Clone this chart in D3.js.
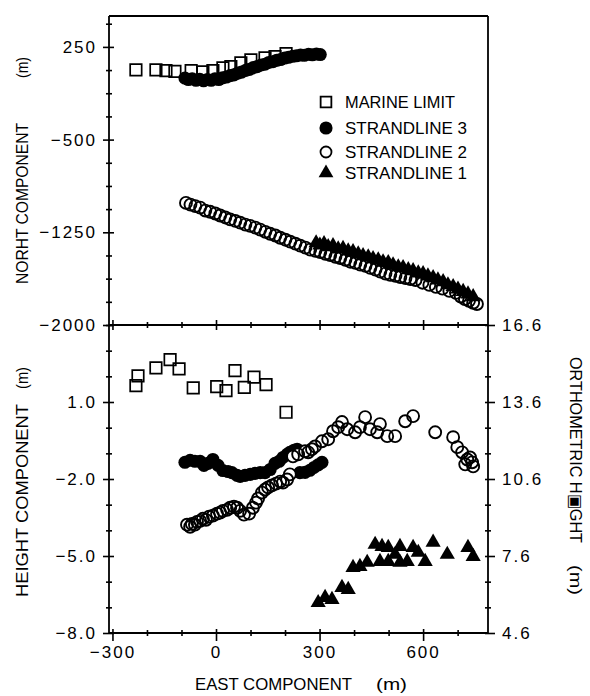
<!DOCTYPE html>
<html>
<head>
<meta charset="utf-8">
<script src="https://cdn.jsdelivr.net/npm/d3@7"></script>
<style>
  body { margin: 0; background: #fff; }
  svg text { font-family: "Liberation Sans", Arial, Helvetica, sans-serif; fill: #000; }
  .tk text { font-size: 17px; letter-spacing: 2px; }
  .tk line { stroke: #000; stroke-width: 1.6; }
</style>
</head>
<body>
<svg id="chart" width="590" height="696"></svg>
<script>
// ---- data: [east (m), value] ----
const marineTop = [[-232, 64], [-174, 64], [-145, 58], [-119, 52], [-72, 58], [-38, 48], [-9, 58], [20, 80],
  [43, 90], [72, 121], [101, 145], [142, 161], [171, 171], [203, 195]];
const strand3Top = [[-90, -2], [-80, -14], [-69, -8], [-58, -20], [-47, -12], [-36, -24], [-25, -14], [-14, -20],
  [-3, -8], [8, -14], [19, 0], [30, 6], [41, 18], [52, 24], [63, 38], [74, 46], [86, 60], [97, 68], [108, 82],
  [119, 90], [131, 104], [142, 110], [153, 124], [165, 130], [176, 142], [187, 148], [199, 160], [210, 166],
  [222, 174], [233, 178], [245, 184], [256, 182], [268, 190], [279, 186], [291, 192], [302, 188]];
const strand2Top = [[-87, -1012], [-74, -1026], [-60, -1038], [-46, -1050], [-31, -1074], [-17, -1084], [-2, -1098],
  [12, -1114], [27, -1130], [41, -1146], [56, -1158], [70, -1172], [85, -1188], [99, -1198], [114, -1212],
  [128, -1228], [143, -1246], [157, -1262], [172, -1276], [186, -1294], [201, -1310], [215, -1326], [230, -1342],
  [244, -1358], [259, -1374], [273, -1390], [288, -1400], [302, -1410], [317, -1424], [331, -1434], [346, -1448],
  [360, -1458], [375, -1472], [389, -1488], [404, -1498], [418, -1512], [433, -1522], [447, -1538], [462, -1552],
  [476, -1568], [491, -1584], [505, -1594], [520, -1602], [534, -1612], [549, -1620], [563, -1628], [578, -1636],
  [598, -1658], [618, -1676], [637, -1692], [656, -1706], [676, -1724], [695, -1740], [709, -1770], [721, -1790],
  [733, -1804], [745, -1820], [756, -1830]];
const strand1Top = [[290, -1336], [301, -1354], [313, -1342], [325, -1368], [339, -1360], [354, -1386], [368, -1382],
  [383, -1402], [397, -1408], [412, -1426], [426, -1440], [441, -1450], [455, -1464], [470, -1474], [484, -1490],
  [499, -1496], [513, -1514], [528, -1530], [542, -1536], [557, -1554], [571, -1562], [586, -1580], [600, -1586],
  [614, -1604], [629, -1618], [643, -1636], [658, -1650], [672, -1676], [687, -1690], [701, -1710], [716, -1730],
  [730, -1750], [745, -1772]];

const marineBot = [[-232, 1.64], [-226, 2.02], [-174, 2.33], [-133, 2.65], [-107, 2.29], [-66, 1.55], [2, 1.6],
  [29, 1.44], [55, 2.22], [82, 1.57], [110, 1.97], [145, 1.68], [203, 0.6]];
const strand3Bot = [[-90, -1.35], [-75, -1.27], [-61, -1.31], [-46, -1.31], [-35, -1.47], [-23, -1.39], [-9, -1.24],
  [6, -1.47], [20, -1.67], [35, -1.71], [46, -1.75], [61, -1.86], [70, -1.9], [84, -1.86], [99, -1.82],
  [113, -1.78], [128, -1.75], [142, -1.75], [157, -1.63], [171, -1.39], [183, -1.31], [194, -1.16], [206, -1.04],
  [214, -0.96], [226, -0.88], [235, -0.84], [243, -1.75], [258, -1.74], [272, -1.66], [284, -1.55], [296, -1.45],
  [307, -1.35]];
const strand2Bot = [[-84, -3.78], [-75, -3.86], [-70, -3.75], [-61, -3.78], [-55, -3.67], [-46, -3.63], [-38, -3.55],
  [-29, -3.59], [-20, -3.47], [-9, -3.43], [3, -3.35], [12, -3.31], [20, -3.24], [32, -3.2], [41, -3.12],
  [52, -3.08], [61, -3.12], [70, -3.24], [81, -3.39], [96, -3.35], [107, -3.12], [116, -2.92], [122, -2.76],
  [133, -2.53], [142, -2.41], [151, -2.33], [162, -2.25], [174, -2.18], [186, -2.1], [194, -2.14], [206, -2.02],
  [214, -1.82], [223, -1.12], [238, -1.04], [258, -0.92], [267, -0.96], [278, -0.84], [287, -0.73], [307, -0.53],
  [325, -0.45], [339, -0.14], [354, 0.02], [365, 0.22], [380, -0.06], [403, -0.18], [417, 0.02], [432, 0.41],
  [446, -0.06], [467, -0.18], [475, 0.14], [496, -0.33], [519, -0.33], [548, 0.25], [571, 0.45], [635, -0.18],
  [687, -0.37], [699, -0.76], [713, -0.96], [722, -1.43], [728, -1.24], [736, -1.16], [742, -1.35], [745, -1.51]];
const strand1Bot = [[296, -6.82], [316, -6.62], [336, -6.7], [365, -6.23], [383, -6.31], [397, -5.45], [417, -5.41],
  [438, -5.25], [461, -4.55], [475, -5.22], [481, -4.63], [499, -4.67], [499, -5.22], [519, -4.94], [533, -4.63],
  [533, -5.25], [554, -5.22], [571, -4.67], [586, -4.86], [606, -5.22], [629, -4.47], [670, -4.94], [730, -4.67],
  [745, -5.02]];

// ---- axis ticks and labels ----
const xMajor = [-300, 0, 300, 600];
const northMajor = [-2000, -1250, -500, 250];
const heightMajor = [-8, -5, -2, 1];
const orthoMajor = [4.6, 7.6, 10.6, 13.6, 16.6];
const legendLabels = ['MARINE LIMIT', 'STRANDLINE 3', 'STRANDLINE 2', 'STRANDLINE 1'];

const svg = d3.select('#chart');

const x = d3.scaleLinear().domain([-310, 788]).range([109, 488]);
const yTop = d3.scaleLinear().domain([-2000, 500]).range([325, 16]);
const yBot = d3.scaleLinear().domain([-8, 4]).range([633, 325]);
const yOrtho = d3.scaleLinear().domain([4.6, 16.6]).range([633, 325]);

// frame
const frame = svg.append('g').attr('stroke', '#000').attr('stroke-width', 1.8).attr('fill', 'none');
frame.append('line').attr('x1', x(-310)).attr('x2', x(-310)).attr('y1', yTop(500)).attr('y2', yBot(-8));
frame.append('line').attr('x1', x(788)).attr('x2', x(788)).attr('y1', yTop(500)).attr('y2', yBot(-8));
frame.append('line').attr('x1', x(-310)).attr('x2', x(788)).attr('y1', yTop(500)).attr('y2', yTop(500));
frame.append('line').attr('x1', x(-310)).attr('x2', x(788)).attr('y1', yTop(-2000)).attr('y2', yTop(-2000));
frame.append('line').attr('x1', x(-310)).attr('x2', x(788)).attr('y1', yBot(-8)).attr('y2', yBot(-8));

function axisAt(gen, tx, ty, values, size, cross, fmt, pad, side) {
  const g = svg.append('g').attr('class', 'tk').attr('transform', `translate(${tx},${ty})`);
  g.call(gen.tickValues(values).tickSize(size).tickPadding(pad).tickFormat(fmt));
  g.select('.domain').remove();
  const ln = g.selectAll('.tick line');
  if (side === 'left') ln.attr('x1', cross);
  if (side === 'right') ln.attr('x1', -cross);
  if (side === 'bottom') ln.attr('y1', -cross);
  return g;
}

const none = () => '';
const minorX = d3.range(-300, 701, 100).filter((v) => !xMajor.includes(v));
const minorN = d3.range(-2000, 501, 187.5).filter((v) => !northMajor.includes(v));
const minorH = d3.range(-8, 4.01, 1).filter((v) => !heightMajor.includes(v));
const minorO = d3.range(4.6, 16.7, 1).filter((v) => !orthoMajor.some((m) => Math.abs(m - v) < 0.01));

// left axes
axisAt(d3.axisLeft(yTop), x(-310), 0, northMajor, 6, 5, d3.format('d'), 6, 'left');
axisAt(d3.axisLeft(yTop), x(-310), 0, minorN, 3, 3, none, 0, 'left');
axisAt(d3.axisLeft(yBot), x(-310), 0, heightMajor, 6, 5, d3.format('.1f'), 6, 'left');
axisAt(d3.axisLeft(yBot), x(-310), 0, minorH, 3, 3, none, 0, 'left');
// right axis (orthometric height)
axisAt(d3.axisRight(yOrtho), x(788), 0, orthoMajor, 7, 3, d3.format('.1f'), 7, 'right');
axisAt(d3.axisRight(yOrtho), x(788), 0, minorO, 3, 3, none, 0, 'right');
// shared middle line ticks
axisAt(d3.axisBottom(x), 0, yTop(-2000), xMajor, 5, 5, none, 0, 'bottom');
axisAt(d3.axisBottom(x), 0, yTop(-2000), minorX, 3, 3, none, 0, 'bottom');
// bottom axis
axisAt(d3.axisBottom(x), 0, yBot(-8), xMajor, 8, 4, d3.format('d'), 5, 'bottom');
axisAt(d3.axisBottom(x), 0, yBot(-8), minorX, 3, 3, none, 0, 'bottom');

// markers
const sqSym = d3.symbol().type(d3.symbolSquare).size(132);
const dotSym = d3.symbol().type(d3.symbolCircle).size(135);
const ringSym = d3.symbol().type(d3.symbolCircle).size(112);
const triSym = d3.symbol().type(d3.symbolTriangle).size(100);

function plot(data, y, sym, fill, stroke, sw) {
  svg.append('g').selectAll('path').data(data).join('path')
    .attr('transform', (d) => `translate(${x(d[0])},${y(d[1])})`)
    .attr('d', sym)
    .attr('fill', fill)
    .attr('stroke', stroke)
    .attr('stroke-width', sw);
}

function panel(ml, s3, s2, s1, y) {
  plot(ml, y, sqSym, 'none', '#000', 1.7);
  plot(s3, y, dotSym, '#000', 'none', 0);
  plot(s2, y, ringSym, '#fff', 'none', 0);
  plot(s2, y, ringSym, 'none', '#000', 1.9);
  plot(s1, y, triSym, '#000', 'none', 0);
}
panel(marineTop, strand3Top, strand2Top, strand1Top, yTop);
panel(marineBot, strand3Bot, strand2Bot, strand1Bot, yBot);

// legend
const legY = [102, 128, 152, 173];
const legBase = [108, 134, 158, 179];
const legSyms = [
  { s: d3.symbol().type(d3.symbolSquare).size(115), f: 'none', k: '#000' },
  { s: d3.symbol().type(d3.symbolCircle).size(135), f: '#000', k: 'none' },
  { s: d3.symbol().type(d3.symbolCircle).size(95), f: 'none', k: '#000' },
  { s: d3.symbol().type(d3.symbolTriangle).size(95), f: '#000', k: 'none' },
];
const leg = svg.append('g');
legendLabels.forEach((lab, i) => {
  leg.append('path').attr('transform', `translate(326,${legY[i]})`).attr('d', legSyms[i].s)
    .attr('fill', legSyms[i].f).attr('stroke', legSyms[i].k).attr('stroke-width', 1.8);
  leg.append('text').attr('x', 345).attr('y', legBase[i]).attr('font-size', 17)
    .attr('textLength', 110 + (i ? 12 : 0)).attr('lengthAdjust', 'spacingAndGlyphs').text(lab);
});

// axis titles
function title(txt, tx, ty, rot, len) {
  svg.append('text').attr('transform', `translate(${tx},${ty}) rotate(${rot})`)
    .attr('font-size', 17).attr('textLength', len).attr('lengthAdjust', 'spacingAndGlyphs').text(txt);
}
title('NORHT COMPONENT', 28, 284, -90, 161);
title('(m)', 28, 78, -90, 21);
title('HEIGHT COMPONENT', 28, 597, -90, 193);
title('(m)', 28, 389, -90, 22);
title('ORTHOMETRIC H\u25A3GHT', 570, 357, 90, 186);
title('(m)', 570, 565, 90, 30);
title('EAST COMPONENT', 195, 690, 0, 157);
title('(m)', 376, 690, 0, 31);
</script>
</body>
</html>
